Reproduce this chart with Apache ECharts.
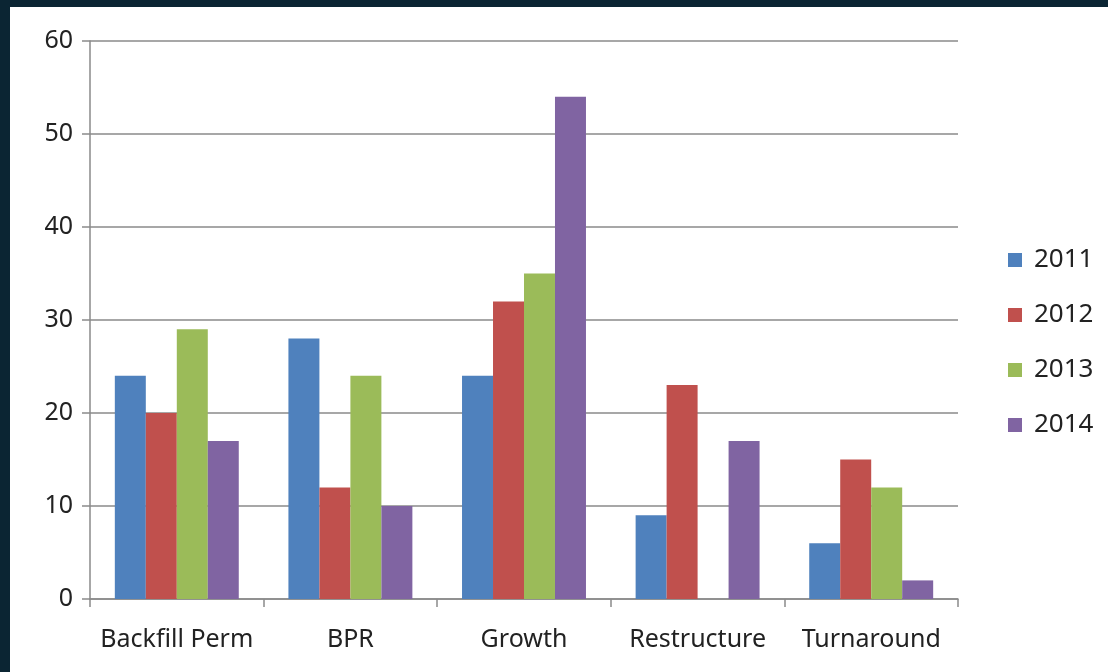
<!DOCTYPE html>
<html>
<head>
<meta charset="utf-8">
<script src="https://cdn.jsdelivr.net/npm/echarts@6/dist/echarts.min.js"></script>
<style>
  html, body { margin: 0; padding: 0; background: #0b2533; width: 1108px; height: 672px; overflow: hidden; }
  #main { position: absolute; left: 10px; top: 7px; width: 1098px; height: 665px; background: #fff; }
</style>
</head>
<body>
<div id="main"></div>
<script>
var categories = ['Backfill Perm', 'BPR', 'Growth', 'Restructure', 'Turnaround']
var years = ['2011', '2012', '2013', '2014']
var v2011 = [24, 28, 24, 9, 6]
var v2012 = [20, 12, 32, 23, 15]
var v2013 = [29, 24, 35, 0, 12]
var v2014 = [17, 10, 54, 17, 2]
var yTicks = [0, 10, 20, 30, 40, 50, 60]

var colors = ['#4f81bd', '#c0504d', '#9bbb59', '#8064a2']
var font = '"Noto Sans", "DejaVu Sans", sans-serif'

var myChart = echarts.init(document.getElementById('main'))

var seriesData = [v2011, v2012, v2013, v2014]
var series = years.map(function(y, i) {
  return {
    name: y,
    type: 'bar',
    data: seriesData[i],
    barGap: 0,
    barCategoryGap: '28.6%',
    itemStyle: { color: colors[i] },
  }
})

var option = {
  animation: false,
  color: colors,
  textStyle: { fontFamily: font },
  grid: { left: 80, top: 34, width: 868, height: 558 },
  legend: {
    orient: 'vertical',
    left: 993,
    top: 235,
    itemWidth: 14,
    itemHeight: 14,
    itemGap: 29,
    icon: 'rect',
    textStyle: { fontSize: 26, color: '#222', fontFamily: font, padding: [0, 0, 0, 7] },
    data: years,
  },
  xAxis: {
    type: 'category',
    data: categories,
    axisLine: { lineStyle: { color: '#8a8a8a', width: 1.5 } },
    axisTick: { show: true, length: 8, lineStyle: { color: '#8a8a8a', width: 1.5 } },
    axisLabel: { fontSize: 25, color: '#222', margin: 28, interval: 0 },
  },
  yAxis: {
    type: 'value',
    min: yTicks[0],
    max: yTicks[yTicks.length - 1],
    interval: 10,
    axisLine: { show: true, lineStyle: { color: '#8a8a8a', width: 1.5 } },
    axisTick: { show: true, length: 8, lineStyle: { color: '#8a8a8a', width: 1.5 } },
    axisLabel: { fontSize: 25, color: '#222', margin: 17 },
    splitLine: { lineStyle: { color: '#8a8a8a', width: 1.5 } },
  },
  series: series,
}

myChart.setOption(option)
</script>
</body>
</html>
